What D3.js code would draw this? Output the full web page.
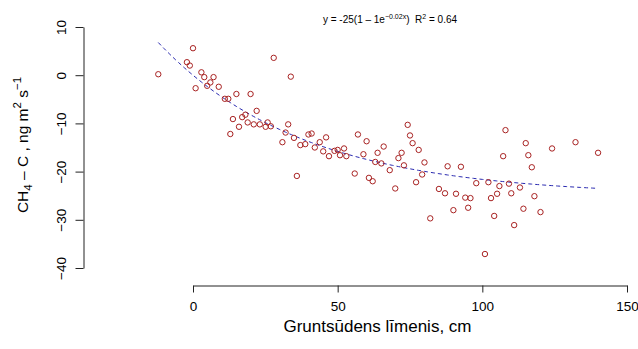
<!DOCTYPE html>
<html>
<head>
<meta charset="utf-8">
<script src="https://cdn.jsdelivr.net/npm/d3@7"></script>
<style>
  body { margin: 0; background: #fff; }
  text { font-family: "Liberation Sans", Arial, sans-serif; fill: #000; }
</style>
</head>
<body>
<svg id="chart"></svg>
<script>
// groundwater level (cm) and CH4-C flux
const gwLevel = [
  -12, 0, -2.1, -1.1, 2.9, 3.9, 7.1, 6.0, 4.9, 0.9, 8.9, 27.9, 33.8, 15.0, 19.9, 11.0, 12.2, 22.0,
  13.8, 17.0, 18.1, 15.9, 12.9, 18.9, 21.0, 23.1, 25.8, 25.1, 26.9, 32.9, 32.0, 30.9, 34.9, 37.1,
  38.8, 39.9,
  41.0, 46.0, 43.8, 42.1, 45.0, 47.0, 48.9, 50.0, 52.2, 50.8, 53.0, 35.9, 57.0, 60.0, 58.9, 55.9,
  60.8, 62.1, 63.8, 65.9, 63.0, 65.1, 68.0, 69.9, 74.2, 75.0, 75.9, 78.0, 72.1, 71.0, 72.9, 80.0,
  79.2, 77.1, 85.0, 87.1, 88.0, 90.9, 92.6, 90.0, 82.0,
  108.0, 115.0, 107.2, 115.9, 117.1, 124.1, 132.2, 140.0, 97.9, 102.1, 105.9, 109.2, 113.0, 110.0,
  105.1, 103.0, 118.0, 94.1, 95.9, 95.1, 114.2, 120.1, 104.1, 111.0, 100.9
]
const ch4Flux = [
  0.2, 5.6, 2.7, 2.0, 0.6, -0.4, -0.4, -1.5, -2.2, -2.7, -2.4, 3.6, -0.3, -3.9, -3.9, -4.9, -4.9, -7.4,
  -9.1, -8.7, -8.2, -10.7, -12.2, -9.8, -10.2, -10.2, -9.8, -10.7, -10.6, -10.2, -11.9, -13.9, -13.0, -14.5,
  -14.3, -12.3,
  -12.1, -12.9, -13.9, -15.0, -15.8, -16.8, -15.7, -15.5, -15.2, -16.6, -16.8, -20.9, -12.3, -13.7, -16.4, -20.4,
  -21.3, -22.0, -16.1, -14.8, -18.0, -18.3, -19.7, -23.5, -10.3, -12.5, -14.1, -15.5, -16.1, -17.2, -18.7, -18.1,
  -20.6, -22.2, -23.6, -24.5, -18.9, -24.6, -19.0, -28.0, -29.7,
  -11.4, -14.1, -16.8, -16.6, -19.1, -15.2, -13.9, -16.1, -22.4, -22.2, -23.0, -22.5, -23.3, -24.5,
  -24.6, -25.5, -25.1, -25.4, -25.5, -27.5, -27.7, -28.4, -29.2, -31.1, -37.1
]

const xTicks = [0, 50, 100, 150]
const yTicks = [-40, -30, -20, -10, 0, 10]

// fitted model y = a(1 - 1e^(-b x)), R2 shown in the label
const fitA = -25
const fitB = 0.02
const fitR2 = 0.64

const width = 638
const height = 349

const svg = d3.select('#chart')
  .attr('width', width)
  .attr('height', height)

const xScale = d3.scaleLinear().domain([0, 150]).range([193, 627])
const yScale = d3.scaleLinear().domain([-40, 10]).range([268, 27])

// axes, R style: line only from first to last tick
const xAxis = d3.axisBottom(xScale).tickValues(xTicks).tickSize(7).tickSizeOuter(0).tickPadding(9)
svg.append('g')
  .attr('transform', 'translate(0,285.5)')
  .call(xAxis)
  .call(g => g.selectAll('text').attr('font-size', 13.5).attr('font-family', 'Liberation Sans, Arial, sans-serif'))

const yAxis = d3.axisLeft(yScale).tickValues(yTicks).tickSize(8).tickSizeOuter(0)
svg.append('g')
  .attr('transform', 'translate(83.5,0)')
  .call(yAxis)
  .call(g => g.selectAll('text')
    .attr('font-size', 13.5)
    .attr('font-family', 'Liberation Sans, Arial, sans-serif')
    .attr('text-anchor', 'middle')
    .attr('dy', null)
    .attr('x', null)
    .attr('transform', 'translate(-18,0) rotate(-90)'))

svg.selectAll('.domain, .tick line').attr('stroke', '#222')

// fitted curve over the range of the data
const xExtent = d3.extent(gwLevel)
const curve = d3.range(xExtent[0], xExtent[1] + 0.5, 1).map(x => [x, fitA * (1 - Math.exp(-fitB * x))])
svg.append('path')
  .datum(curve)
  .attr('fill', 'none')
  .attr('stroke', '#2a2ab0')
  .attr('stroke-width', 1)
  .attr('stroke-dasharray', '4,3')
  .attr('d', d3.line().x(d => xScale(d[0])).y(d => yScale(d[1])))

// points
svg.append('g')
  .selectAll('circle')
  .data(gwLevel.map((x, i) => [x, ch4Flux[i]]))
  .join('circle')
  .attr('cx', d => xScale(d[0]))
  .attr('cy', d => yScale(d[1]))
  .attr('r', 2.7)
  .attr('fill', 'none')
  .attr('stroke', '#a82222')
  .attr('stroke-width', 1)

// equation label
const eq = svg.append('text')
  .attr('x', 390)
  .attr('y', 22.5)
  .attr('text-anchor', 'middle')
  .attr('font-size', 10)
  .style('white-space', 'pre')
eq.append('tspan').text(`y = ${fitA}(1 \u2013 1e`)
eq.append('tspan').attr('dy', -4).attr('font-size', 7).text(`\u2212${fitB}x`)
eq.append('tspan').attr('dy', 4).text(')\u00a0\u00a0R')
eq.append('tspan').attr('dy', -4).attr('font-size', 7).text('2')
eq.append('tspan').attr('dy', 4).text(` = ${fitR2}`)

// axis titles
svg.append('text')
  .attr('x', 377.5)
  .attr('y', 332)
  .attr('text-anchor', 'middle')
  .attr('font-size', 17)
  .text('Gruntsūdens līmenis, cm')

const yt = svg.append('text')
  .attr('transform', 'translate(28,145) rotate(-90)')
  .attr('text-anchor', 'middle')
  .attr('font-size', 15.5)
yt.append('tspan').text('CH')
yt.append('tspan').attr('dy', 4).attr('font-size', 11.5).text('4')
yt.append('tspan').attr('dy', -4).text(' \u2013 C , ng m')
yt.append('tspan').attr('dy', -7).attr('font-size', 11.5).text('2')
yt.append('tspan').attr('dy', 7).text(' s')
yt.append('tspan').attr('dy', -7).attr('font-size', 11.5).text('\u22121')
</script>
</body>
</html>
